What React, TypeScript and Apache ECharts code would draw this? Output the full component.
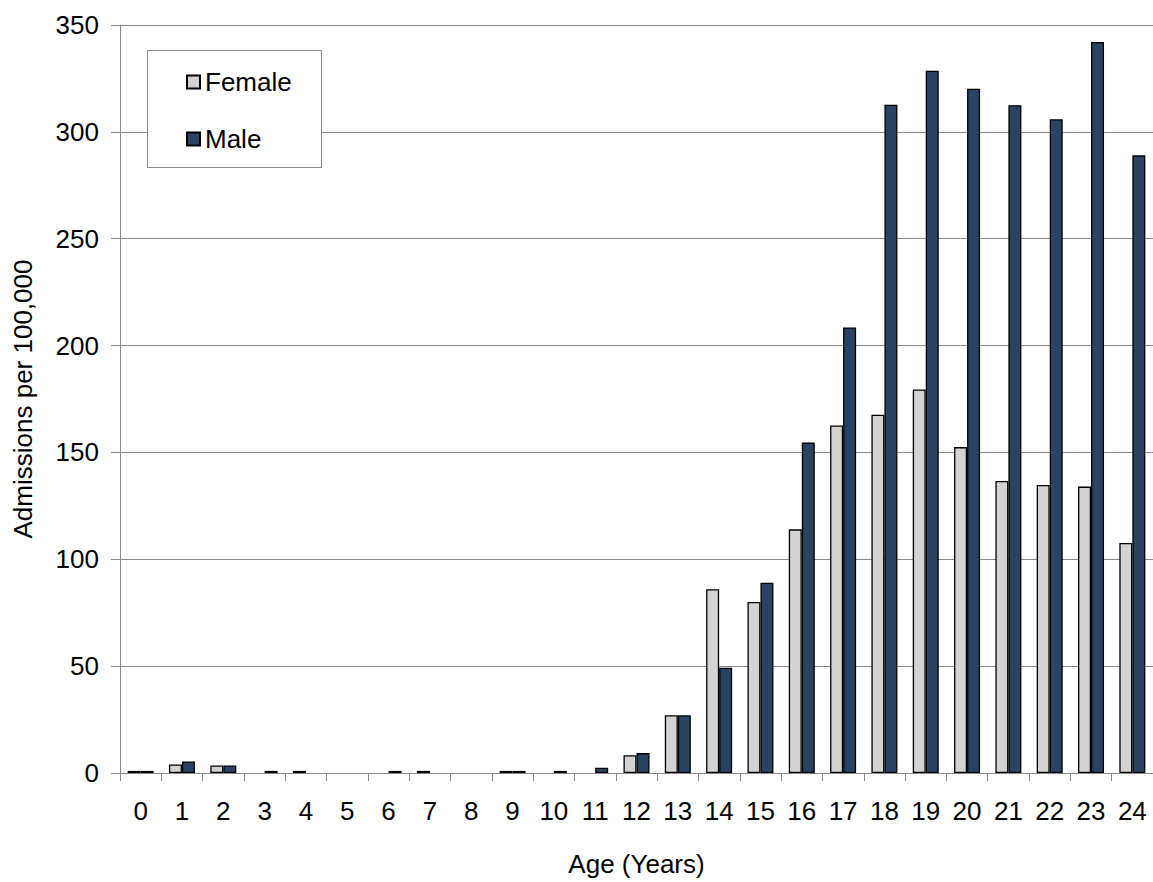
import React, { useEffect, useRef } from "react";
import * as echarts from "echarts";

const ages = ["0","1","2","3","4","5","6","7","8","9","10","11","12","13","14","15","16","17","18","19","20","21","22","23","24"];
const female = [1, 4, 3.5, 0, 1, 0, 0, 1, 0, 1, 0, 0, 8.3, 27, 86, 80, 114, 162.6, 167.6, 179.5, 152.5, 136.6, 134.8, 134, 107.6];
const male = [1, 5.4, 3.5, 1, 0, 0, 1, 0, 0, 1, 1, 2.5, 9.3, 27, 49.3, 89, 154.6, 208.5, 312.7, 328.6, 320.2, 312.5, 305.9, 342, 289];
const yTicks = [0, 50, 100, 150, 200, 250, 300, 350];

const FONT = "'Liberation Sans', Arial, sans-serif";
const FS = 26;

const noZero = (arr: number[]) => arr.map((v) => (v === 0 ? null : v));

export default function App() {
  const ref = useRef<HTMLDivElement>(null);
  useEffect(() => {
    if (!ref.current) return;
    const chart = echarts.init(ref.current, null, { renderer: "svg" });
    chart.setOption({
      animation: false,
      backgroundColor: "#ffffff",
      textStyle: { fontFamily: FONT },
      grid: { left: 120, right: -8, top: 25, bottom: 101, containLabel: false },
      legend: {
        orient: "vertical",
        left: 181,
        top: 64,
        itemWidth: 13,
        itemHeight: 13,
        itemGap: 31,
        icon: "rect",
        z: 10,
        textStyle: { fontSize: FS, color: "#000", fontFamily: FONT },
        data: ["Female", "Male"],
      },
      graphic: [
        {
          type: "rect",
          z: 5,
          shape: { x: 147.5, y: 50.5, width: 174, height: 117 },
          style: { fill: "#ffffff", stroke: "#888888", lineWidth: 1 },
        },
      ],
      xAxis: {
        type: "category",
        data: ages,
        name: "Age (Years)",
        nameLocation: "middle",
        nameGap: 78,
        nameTextStyle: { fontSize: FS, color: "#000", fontFamily: FONT },
        axisLine: { show: true, lineStyle: { color: "#888888", width: 1 } },
        axisTick: { show: true, length: 8, lineStyle: { color: "#888888" } },
        axisLabel: { interval: 0, fontSize: FS, color: "#000", margin: 25, fontFamily: FONT },
      },
      yAxis: {
        type: "value",
        min: yTicks[0],
        max: yTicks[yTicks.length - 1],
        interval: 50,
        name: "Admissions per 100,000",
        nameLocation: "middle",
        nameGap: 84,
        nameTextStyle: { fontSize: FS, color: "#000", fontFamily: FONT },
        axisLine: { show: true, lineStyle: { color: "#888888", width: 1 } },
        axisTick: { show: true, length: 9, lineStyle: { color: "#888888" } },
        axisLabel: { fontSize: FS, color: "#000", margin: 21, fontFamily: FONT },
        splitLine: { show: true, lineStyle: { color: "#888888", width: 1 } },
      },
      series: [
        {
          name: "Female",
          type: "bar",
          data: noZero(female),
          barWidth: 13,
          barGap: "0%",
          itemStyle: { color: "#d3d3d3", borderColor: "#000000", borderWidth: 1.3 },
        },
        {
          name: "Male",
          type: "bar",
          data: noZero(male),
          barWidth: 13,
          barGap: "0%",
          itemStyle: { color: "#284462", borderColor: "#000000", borderWidth: 1.3 },
        },
      ],
    });
    return () => chart.dispose();
  }, []);
  return (
    <div
      ref={ref}
      style={{ position: "absolute", left: 0, top: 0, width: 1153, height: 882, overflow: "hidden" }}
    />
  );
}
